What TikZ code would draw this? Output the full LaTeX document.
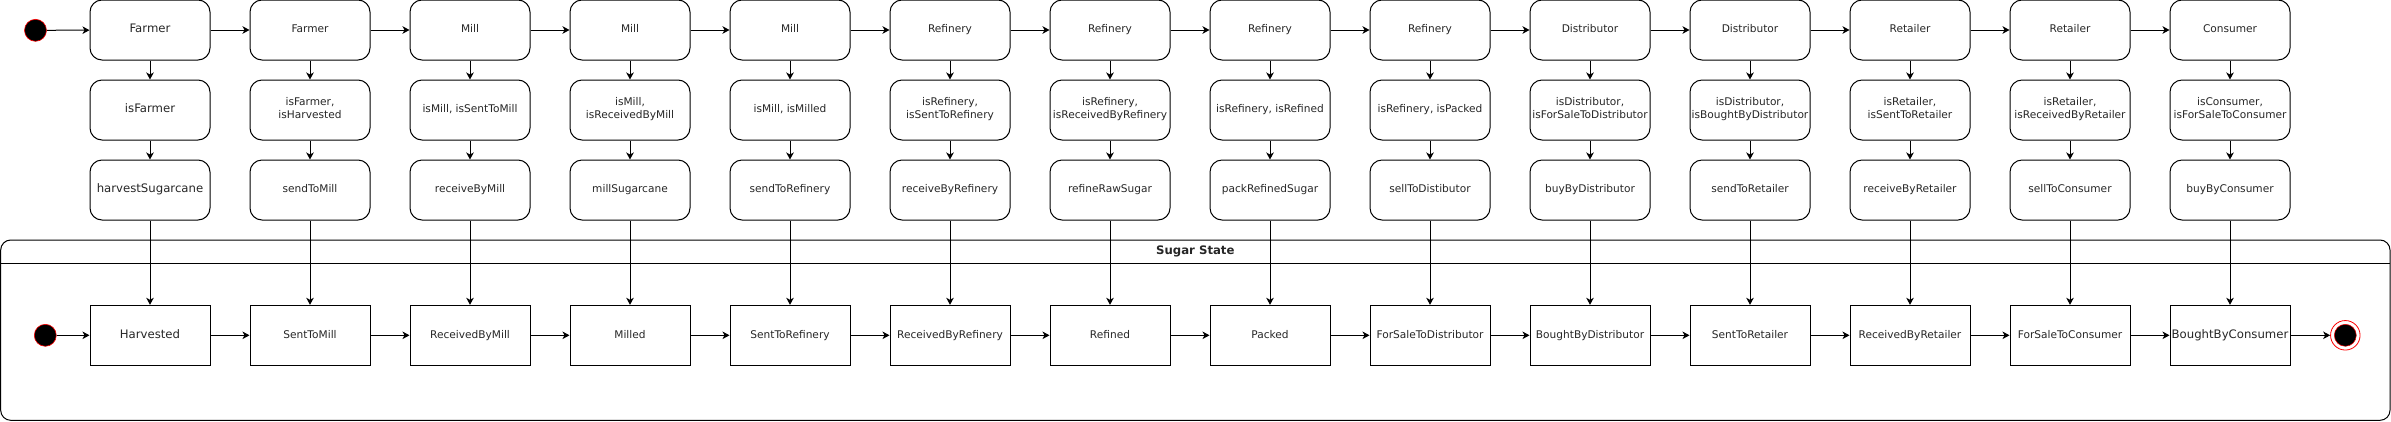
\documentclass[tikz,border=0pt]{standalone}
\usepackage{fontspec}
\setmainfont{DejaVu Sans}
\usetikzlibrary{arrows.meta}
\newcommand\smf{\fontsize{10.6}{13.6}\selectfont}
\newcommand\bgf{\fontsize{11.7}{14}\selectfont}
\definecolor{txt}{HTML}{262626}
\tikzset{
  rbox/.style={draw, line width=1pt, rounded corners=12pt, minimum width=120pt, minimum height=60pt, align=center, inner sep=0pt, font=\smf, text=txt, execute at begin node=\strut, execute at end node=\strut},
  sbox/.style={draw, line width=1pt, minimum width=120pt, minimum height=60pt, align=center, inner sep=0pt, font=\smf, text=txt, execute at begin node=\strut, execute at end node=\strut},
  big/.style={font=\bgf},
  arr/.style={-{Stealth[length=7pt,width=7.5pt,inset=2pt]}, line width=1pt},
  initst/.style={circle, fill=black, draw=red, line width=0.6pt, minimum size=22pt, inner sep=0pt},
  finout/.style={circle, fill=white, draw=red, line width=0.8pt, minimum size=29.5pt, inner sep=0pt},
  finin/.style={circle, fill=black, draw=red, line width=0.5pt, minimum size=22pt, inner sep=0pt},
}
\begin{document}
\begin{tikzpicture}[x=1pt,y=-1pt]
\useasboundingbox (0,0) rectangle (2391,421);
% container
\node (cont) [draw, line width=1pt, rounded corners=10pt, minimum width=2389.3pt, minimum height=180.3pt, inner sep=0pt] at (1195.35,330.15) {};
\coordinate (hl) at (0.7,263.3);
\coordinate (hr) at (2390,263.3);
\draw[line width=1pt] (hl) -- (hr);
\node (title) [font=\bfseries\bgf, text=txt] at (1195.35,251.7) {Sugar State};

% row 1: actors
\node (t1)  [rbox,big] at (150,30)  {Farmer};
\node (t2)  [rbox] at (310,30)  {Farmer};
\node (t3)  [rbox] at (470,30)  {Mill};
\node (t4)  [rbox] at (630,30)  {Mill};
\node (t5)  [rbox] at (790,30)  {Mill};
\node (t6)  [rbox] at (950,30)  {Refinery};
\node (t7)  [rbox] at (1110,30) {Refinery};
\node (t8)  [rbox] at (1270,30) {Refinery};
\node (t9)  [rbox] at (1430,30) {Refinery};
\node (t10) [rbox] at (1590,30) {Distributor};
\node (t11) [rbox] at (1750,30) {Distributor};
\node (t12) [rbox] at (1910,30) {Retailer};
\node (t13) [rbox] at (2070,30) {Retailer};
\node (t14) [rbox] at (2230,30) {Consumer};

% row 2: conditions
\node (c1)  [rbox,big] at (150,110)  {isFarmer};
\node (c2)  [rbox] at (310,110)  {isFarmer,\\isHarvested};
\node (c3)  [rbox] at (470,110)  {isMill, isSentToMill};
\node (c4)  [rbox] at (630,110)  {isMill,\\isReceivedByMill};
\node (c5)  [rbox] at (790,110)  {isMill, isMilled};
\node (c6)  [rbox] at (950,110)  {isRefinery,\\isSentToRefinery};
\node (c7)  [rbox] at (1110,110) {isRefinery,\\isReceivedByRefinery};
\node (c8)  [rbox] at (1270,110) {isRefinery, isRefined};
\node (c9)  [rbox] at (1430,110) {isRefinery, isPacked};
\node (c10) [rbox] at (1590,110) {isDistributor,\\isForSaleToDistributor};
\node (c11) [rbox] at (1750,110) {isDistributor,\\isBoughtByDistributor};
\node (c12) [rbox] at (1910,110) {isRetailer,\\isSentToRetailer};
\node (c13) [rbox] at (2070,110) {isRetailer,\\isReceivedByRetailer};
\node (c14) [rbox] at (2230,110) {isConsumer,\\isForSaleToConsumer};

% row 3: actions
\node (a1)  [rbox,big] at (150,190)  {harvestSugarcane};
\node (a2)  [rbox] at (310,190)  {sendToMill};
\node (a3)  [rbox] at (470,190)  {receiveByMill};
\node (a4)  [rbox] at (630,190)  {millSugarcane};
\node (a5)  [rbox] at (790,190)  {sendToRefinery};
\node (a6)  [rbox] at (950,190)  {receiveByRefinery};
\node (a7)  [rbox] at (1110,190) {refineRawSugar};
\node (a8)  [rbox] at (1270,190) {packRefinedSugar};
\node (a9)  [rbox] at (1430,190) {sellToDistibutor};
\node (a10) [rbox] at (1590,190) {buyByDistributor};
\node (a11) [rbox] at (1750,190) {sendToRetailer};
\node (a12) [rbox] at (1910,190) {receiveByRetailer};
\node (a13) [rbox] at (2070,190) {sellToConsumer};
\node (a14) [rbox] at (2230,190) {buyByConsumer};

% row 4: states
\node (s1)  [sbox,big] at (150,335.3)  {Harvested};
\node (s2)  [sbox] at (310,335.3)  {SentToMill};
\node (s3)  [sbox] at (470,335.3)  {ReceivedByMill};
\node (s4)  [sbox] at (630,335.3)  {Milled};
\node (s5)  [sbox] at (790,335.3)  {SentToRefinery};
\node (s6)  [sbox] at (950,335.3)  {ReceivedByRefinery};
\node (s7)  [sbox] at (1110,335.3) {Refined};
\node (s8)  [sbox] at (1270,335.3) {Packed};
\node (s9)  [sbox] at (1430,335.3) {ForSaleToDistributor};
\node (s10) [sbox] at (1590,335.3) {BoughtByDistributor};
\node (s11) [sbox] at (1750,335.3) {SentToRetailer};
\node (s12) [sbox] at (1910,335.3) {ReceivedByRetailer};
\node (s13) [sbox] at (2070,335.3) {ForSaleToConsumer};
\node (s14) [sbox,big] at (2230,335.3) {BoughtByConsumer};

% initial / final states
\node (i1) [initst] at (35.5,30.3) {};
\node (i2) [initst] at (45.3,335.3) {};
\node (f1) [finout] at (2345.3,335.3) {};
\node (f2) [finin] at (2345.3,335.3) {};

% connectors
\draw[arr] (i1) -- (t1);
\draw[arr] (i2) -- (s1);
\foreach \i [evaluate=\i as \j using int(\i+1)] in {1,...,13} {
  \draw[arr] (t\i) -- (t\j);
  \draw[arr] (s\i) -- (s\j);
}
\foreach \i in {1,...,14} {
  \draw[arr] (t\i) -- (c\i);
  \draw[arr] (c\i) -- (a\i);
  \draw[arr] (a\i) -- (s\i);
}
\draw[arr] (s14) -- (f1);
\end{tikzpicture}
\end{document}
